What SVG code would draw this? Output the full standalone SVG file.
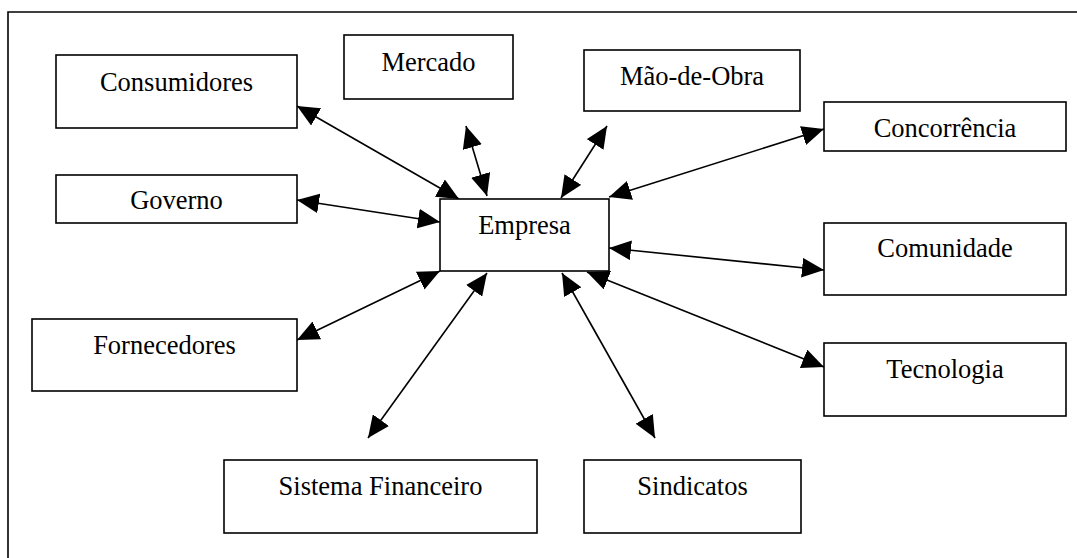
<svg xmlns="http://www.w3.org/2000/svg" width="1077" height="558" viewBox="0 0 1077 558">
<style>
.box{fill:#fff;stroke:#000;stroke-width:1.6}
.lbl{font-family:'Liberation Serif','Times New Roman',Tinos,'DejaVu Serif',serif;font-size:26.5px;fill:#000;text-anchor:middle}
.con{stroke:#000;stroke-width:1.6;fill:none;marker-start:url(#ah);marker-end:url(#ah)}
</style>
<defs>
<marker id="ah" markerUnits="userSpaceOnUse" markerWidth="22" markerHeight="20" viewBox="0 0 20 18" refX="20" refY="9" orient="auto-start-reverse">
<path d="M0,0 L20,9 L0,18 z" fill="#000"/>
</marker>
</defs>
<rect width="1077" height="558" fill="#fff"/>
<path d="M8,558 V12 H1077" fill="none" stroke="#000" stroke-width="1.6"/>
<g id="connectors">
<line class="con" x1="297" y1="106" x2="459" y2="199"/>
<line class="con" x1="466" y1="126" x2="487" y2="196"/>
<line class="con" x1="607" y1="126" x2="561" y2="198"/>
<line class="con" x1="824" y1="129" x2="609" y2="197"/>
<line class="con" x1="297" y1="200" x2="440" y2="222"/>
<line class="con" x1="609" y1="248" x2="824" y2="270"/>
<line class="con" x1="297" y1="340" x2="440" y2="271"/>
<line class="con" x1="368" y1="438" x2="487" y2="273"/>
<line class="con" x1="655" y1="438" x2="562" y2="273"/>
<line class="con" x1="824" y1="367" x2="587" y2="272"/>
</g>
<g id="consumidores"><rect class="box" x="56" y="55" width="241" height="73"/><text class="lbl" x="176.5" y="91" font-family="Liberation Serif, serif">Consumidores</text></g>
<g id="mercado"><rect class="box" x="344" y="35" width="169" height="64"/><text class="lbl" x="428.5" y="71">Mercado</text></g>
<g id="maodeobra"><rect class="box" x="584" y="50" width="216" height="61"/><text class="lbl" x="692" y="85">Mão-de-Obra</text></g>
<g id="concorrencia"><rect class="box" x="824" y="102" width="242" height="49"/><text class="lbl" x="945" y="137">Concorrência</text></g>
<g id="governo"><rect class="box" x="56" y="175" width="241" height="48"/><text class="lbl" x="176.5" y="209">Governo</text></g>
<g id="empresa"><rect class="box" x="440" y="199" width="169" height="72"/><text class="lbl" x="524.5" y="234">Empresa</text></g>
<g id="comunidade"><rect class="box" x="824" y="223" width="242" height="72"/><text class="lbl" x="945" y="257">Comunidade</text></g>
<g id="fornecedores"><rect class="box" x="32" y="319" width="265" height="72"/><text class="lbl" x="164.5" y="354">Fornecedores</text></g>
<g id="tecnologia"><rect class="box" x="824" y="343" width="242" height="73"/><text class="lbl" x="945" y="378">Tecnologia</text></g>
<g id="sistemafinanceiro"><rect class="box" x="224" y="460" width="313" height="73"/><text class="lbl" x="380.5" y="495">Sistema Financeiro</text></g>
<g id="sindicatos"><rect class="box" x="584" y="460" width="217" height="73"/><text class="lbl" x="692.5" y="495">Sindicatos</text></g>
</svg>
